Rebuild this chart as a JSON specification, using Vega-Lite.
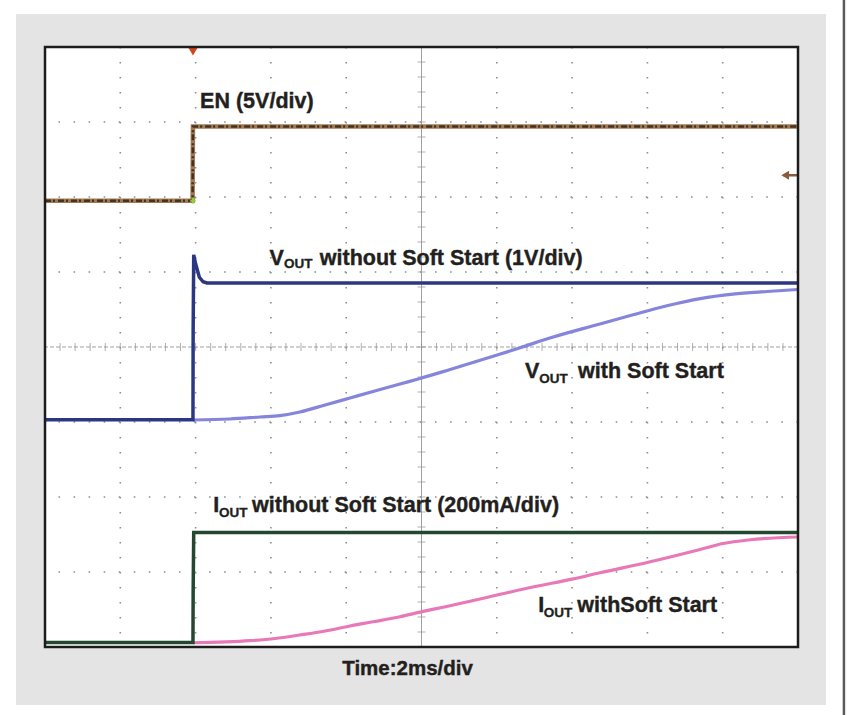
{
  "$schema": "https://vega.github.io/schema/vega-lite/v6.json",
  "width": 753,
  "height": 600,
  "autosize": {"type": "none"},
  "padding": {"left": 45, "top": 47, "right": 49, "bottom": 68},
  "background": "#ffffff",
  "config": {
    "view": {"stroke": null, "fill": null},
    "text": {"font": "Liberation Sans", "fontWeight": "bold", "color": "#231f20"}
  },
  "datasets": {
    "traces": [
      {"s": "EN", "t": 0, "d": 5.95}, {"s": "EN", "t": 3.92, "d": 5.95}, {"s": "EN", "t": 3.93, "d": 6.94}, {"s": "EN", "t": 20, "d": 6.94},
      {"s": "VOUT", "t": 0, "d": 3.03}, {"s": "VOUT", "t": 3.93, "d": 3.03}, {"s": "VOUT", "t": 3.935, "d": 4.23}, {"s": "VOUT", "t": 3.95, "d": 5.23}, {"s": "VOUT", "t": 4.0, "d": 5.11}, {"s": "VOUT", "t": 4.1, "d": 4.93}, {"s": "VOUT", "t": 4.2, "d": 4.87}, {"s": "VOUT", "t": 4.3, "d": 4.853}, {"s": "VOUT", "t": 20, "d": 4.853},
      {"s": "VSS", "t": 3.93, "d": 3.027}, {"s": "VSS", "t": 4.91, "d": 3.04}, {"s": "VSS", "t": 5.71, "d": 3.067}, {"s": "VSS", "t": 6.24, "d": 3.085}, {"s": "VSS", "t": 6.77, "d": 3.133}, {"s": "VSS", "t": 7.44, "d": 3.227}, {"s": "VSS", "t": 8.1, "d": 3.32}, {"s": "VSS", "t": 8.76, "d": 3.413}, {"s": "VSS", "t": 9.43, "d": 3.507}, {"s": "VSS", "t": 9.96, "d": 3.58}, {"s": "VSS", "t": 10.76, "d": 3.7}, {"s": "VSS", "t": 12.01, "d": 3.893}, {"s": "VSS", "t": 12.62, "d": 3.99}, {"s": "VSS", "t": 13.41, "d": 4.12}, {"s": "VSS", "t": 14.74, "d": 4.307}, {"s": "VSS", "t": 15.62, "d": 4.43}, {"s": "VSS", "t": 16.52, "d": 4.55}, {"s": "VSS", "t": 17.4, "d": 4.645}, {"s": "VSS", "t": 18.27, "d": 4.705}, {"s": "VSS", "t": 19.18, "d": 4.74}, {"s": "VSS", "t": 20, "d": 4.767},
      {"s": "IOUT", "t": 0, "d": 0.06}, {"s": "IOUT", "t": 3.93, "d": 0.06}, {"s": "IOUT", "t": 3.935, "d": 0.73}, {"s": "IOUT", "t": 3.95, "d": 1.527}, {"s": "IOUT", "t": 20, "d": 1.527},
      {"s": "ISS", "t": 3.93, "d": 0.057}, {"s": "ISS", "t": 5.44, "d": 0.084}, {"s": "ISS", "t": 6.11, "d": 0.113}, {"s": "ISS", "t": 6.77, "d": 0.16}, {"s": "ISS", "t": 7.44, "d": 0.213}, {"s": "ISS", "t": 8.1, "d": 0.28}, {"s": "ISS", "t": 8.76, "d": 0.34}, {"s": "ISS", "t": 9.43, "d": 0.404}, {"s": "ISS", "t": 9.96, "d": 0.465}, {"s": "ISS", "t": 10.76, "d": 0.55}, {"s": "ISS", "t": 12.01, "d": 0.693}, {"s": "ISS", "t": 12.96, "d": 0.8}, {"s": "ISS", "t": 14.0, "d": 0.905}, {"s": "ISS", "t": 14.74, "d": 0.99}, {"s": "ISS", "t": 16.02, "d": 1.13}, {"s": "ISS", "t": 17.4, "d": 1.3}, {"s": "ISS", "t": 18.01, "d": 1.38}, {"s": "ISS", "t": 18.73, "d": 1.43}, {"s": "ISS", "t": 20, "d": 1.467}
    ],
    "vgrid": [{"t": 2}, {"t": 4}, {"t": 6}, {"t": 8}, {"t": 12}, {"t": 14}, {"t": 16}, {"t": 18}],
    "hgrid": [{"d": 1}, {"d": 2}, {"d": 3}, {"d": 5}, {"d": 6}, {"d": 7}],
    "xticks": [{"t": 0}, {"t": 0.4}, {"t": 0.8}, {"t": 1.2}, {"t": 1.6}, {"t": 2}, {"t": 2.4}, {"t": 2.8}, {"t": 3.2}, {"t": 3.6}, {"t": 4}, {"t": 4.4}, {"t": 4.8}, {"t": 5.2}, {"t": 5.6}, {"t": 6}, {"t": 6.4}, {"t": 6.8}, {"t": 7.2}, {"t": 7.6}, {"t": 8}, {"t": 8.4}, {"t": 8.8}, {"t": 9.2}, {"t": 9.6}, {"t": 10}, {"t": 10.4}, {"t": 10.8}, {"t": 11.2}, {"t": 11.6}, {"t": 12}, {"t": 12.4}, {"t": 12.8}, {"t": 13.2}, {"t": 13.6}, {"t": 14}, {"t": 14.4}, {"t": 14.8}, {"t": 15.2}, {"t": 15.6}, {"t": 16}, {"t": 16.4}, {"t": 16.8}, {"t": 17.2}, {"t": 17.6}, {"t": 18}, {"t": 18.4}, {"t": 18.8}, {"t": 19.2}, {"t": 19.6}, {"t": 20}],
    "yticks": [{"d": 0}, {"d": 0.2}, {"d": 0.4}, {"d": 0.6}, {"d": 0.8}, {"d": 1}, {"d": 1.2}, {"d": 1.4}, {"d": 1.6}, {"d": 1.8}, {"d": 2}, {"d": 2.2}, {"d": 2.4}, {"d": 2.6}, {"d": 2.8}, {"d": 3}, {"d": 3.2}, {"d": 3.4}, {"d": 3.6}, {"d": 3.8}, {"d": 4}, {"d": 4.2}, {"d": 4.4}, {"d": 4.6}, {"d": 4.8}, {"d": 5}, {"d": 5.2}, {"d": 5.4}, {"d": 5.6}, {"d": 5.8}, {"d": 6}, {"d": 6.2}, {"d": 6.4}, {"d": 6.6}, {"d": 6.8}, {"d": 7}, {"d": 7.2}, {"d": 7.4}, {"d": 7.6}, {"d": 7.8}, {"d": 8}],
    "labels": [
      {"t": 4.12, "d": 7.19, "text": "EN (5V/div)", "part": "main"},
      {"t": 5.96, "d": 5.1, "text": "V", "part": "main"},
      {"t": 6.35, "d": 5.047, "text": "OUT", "part": "sub"},
      {"t": 7.3, "d": 5.1, "text": "without Soft Start (1V/div)", "part": "main"},
      {"t": 12.75, "d": 3.587, "text": "V", "part": "main"},
      {"t": 13.13, "d": 3.52, "text": "OUT", "part": "sub"},
      {"t": 14.16, "d": 3.587, "text": "with Soft Start", "part": "main"},
      {"t": 4.47, "d": 1.804, "text": "I", "part": "main"},
      {"t": 4.62, "d": 1.733, "text": "OUT", "part": "sub"},
      {"t": 5.5, "d": 1.804, "text": "without Soft Start (200mA/div)", "part": "main"},
      {"t": 13.1, "d": 0.471, "text": "I", "part": "main"},
      {"t": 13.25, "d": 0.404, "text": "OUT", "part": "sub"},
      {"t": 14.14, "d": 0.471, "text": "withSoft Start", "part": "main"},
      {"t": 9.63, "d": -0.373, "text": "Time:2ms/div", "part": "axis"}
    ]
  },
  "layer": [
    {
      "data": {"values": [{}]},
      "mark": {"type": "rect", "fill": "#e4e4e4"},
      "encoding": {
        "x": {"datum": -0.77, "type": "quantitative", "scale": {"domain": [0, 20], "nice": false, "zero": false}, "axis": null},
        "x2": {"datum": 20.744},
        "y": {"datum": -0.773, "type": "quantitative", "scale": {"domain": [0, 8], "nice": false, "zero": false}, "axis": null},
        "y2": {"datum": 8.44}
      }
    },
    {
      "data": {"values": [{}]},
      "mark": {"type": "rule", "stroke": "#5a5a5a", "strokeWidth": 2.5},
      "encoding": {
        "x": {"datum": 21.22, "type": "quantitative", "axis": null},
        "y": {"datum": -0.91, "type": "quantitative", "axis": null},
        "y2": {"datum": 8.63}
      }
    },
    {
      "data": {"values": [{}]},
      "mark": {"type": "rect", "fill": "#ffffff"},
      "encoding": {
        "x": {"datum": 0, "type": "quantitative", "axis": null},
        "x2": {"datum": 20},
        "y": {"datum": 0, "type": "quantitative", "axis": null},
        "y2": {"datum": 8}
      }
    },
    {
      "data": {"name": "vgrid"},
      "mark": {"type": "rule", "stroke": "#8f8f8f", "strokeWidth": 1.6, "strokeDash": [1.6, 13.4]},
      "encoding": {"x": {"field": "t", "type": "quantitative", "axis": null}}
    },
    {
      "data": {"name": "hgrid"},
      "mark": {"type": "rule", "stroke": "#8f8f8f", "strokeWidth": 1.6, "strokeDash": [1.6, 13.46]},
      "encoding": {"y": {"field": "d", "type": "quantitative", "axis": null}}
    },
    {
      "data": {"values": [{}]},
      "mark": {"type": "rule", "stroke": "#a0a0a0", "strokeWidth": 1},
      "encoding": {"x": {"datum": 10, "type": "quantitative", "axis": null}}
    },
    {
      "data": {"values": [{}]},
      "mark": {"type": "rule", "stroke": "#a0a0a0", "strokeWidth": 1, "strokeDash": [4, 2]},
      "encoding": {"y": {"datum": 4, "type": "quantitative", "axis": null}}
    },
    {
      "data": {"name": "xticks"},
      "mark": {"type": "tick", "orient": "vertical", "color": "#8f8f8f", "size": 8, "thickness": 1},
      "encoding": {
        "x": {"field": "t", "type": "quantitative", "axis": null},
        "y": {"datum": 4, "type": "quantitative", "axis": null}
      }
    },
    {
      "data": {"name": "yticks"},
      "mark": {"type": "tick", "orient": "horizontal", "color": "#8f8f8f", "size": 8, "thickness": 1},
      "encoding": {
        "x": {"datum": 10, "type": "quantitative", "axis": null},
        "y": {"field": "d", "type": "quantitative", "axis": null}
      }
    },
    {
      "data": {"name": "traces"},
      "transform": [{"filter": "datum.s === 'EN'"}],
      "mark": {"type": "line", "stroke": "#a27a52", "strokeWidth": 4.5, "interpolate": "linear"},
      "encoding": {
        "x": {"field": "t", "type": "quantitative", "axis": null},
        "y": {"field": "d", "type": "quantitative", "axis": null}
      }
    },
    {
      "data": {"name": "traces"},
      "transform": [{"filter": "datum.s === 'EN'"}],
      "mark": {"type": "line", "stroke": "#34261a", "strokeWidth": 2.5, "strokeDash": [6, 2, 2, 3], "opacity": 0.85},
      "encoding": {
        "x": {"field": "t", "type": "quantitative", "axis": null},
        "y": {"field": "d", "type": "quantitative", "axis": null}
      }
    },
    {
      "data": {"name": "traces"},
      "transform": [{"filter": "datum.s === 'VSS'"}],
      "mark": {"type": "line", "stroke": "#8585dc", "strokeWidth": 3.2, "interpolate": "monotone"},
      "encoding": {
        "x": {"field": "t", "type": "quantitative", "axis": null},
        "y": {"field": "d", "type": "quantitative", "axis": null}
      }
    },
    {
      "data": {"name": "traces"},
      "transform": [{"filter": "datum.s === 'VOUT'"}],
      "mark": {"type": "line", "stroke": "#2c3784", "strokeWidth": 3.5},
      "encoding": {
        "x": {"field": "t", "type": "quantitative", "axis": null},
        "y": {"field": "d", "type": "quantitative", "axis": null}
      }
    },
    {
      "data": {"name": "traces"},
      "transform": [{"filter": "datum.s === 'ISS'"}],
      "mark": {"type": "line", "stroke": "#e878b8", "strokeWidth": 3.2, "interpolate": "monotone"},
      "encoding": {
        "x": {"field": "t", "type": "quantitative", "axis": null},
        "y": {"field": "d", "type": "quantitative", "axis": null}
      }
    },
    {
      "data": {"name": "traces"},
      "transform": [{"filter": "datum.s === 'IOUT'"}],
      "mark": {"type": "line", "stroke": "#24472f", "strokeWidth": 3.5},
      "encoding": {
        "x": {"field": "t", "type": "quantitative", "axis": null},
        "y": {"field": "d", "type": "quantitative", "axis": null}
      }
    },
    {
      "data": {"values": [{}]},
      "mark": {"type": "point", "shape": "triangle-down", "filled": true, "color": "#d0481c", "size": 90, "opacity": 1},
      "encoding": {
        "x": {"datum": 3.93, "type": "quantitative", "axis": null},
        "y": {"datum": 7.94, "type": "quantitative", "axis": null}
      }
    },
    {
      "data": {"values": [{}]},
      "mark": {"type": "point", "shape": "cross", "filled": true, "color": "#8fd03a", "size": 30, "opacity": 1},
      "encoding": {
        "x": {"datum": 3.93, "type": "quantitative", "axis": null},
        "y": {"datum": 5.95, "type": "quantitative", "axis": null}
      }
    },
    {
      "data": {"values": [{}]},
      "mark": {"type": "rule", "stroke": "#8a5a3a", "strokeWidth": 2.5},
      "encoding": {
        "x": {"datum": 19.62, "type": "quantitative", "axis": null},
        "x2": {"datum": 20},
        "y": {"datum": 6.29, "type": "quantitative", "axis": null}
      }
    },
    {
      "data": {"values": [{}]},
      "mark": {"type": "point", "shape": "triangle-left", "filled": true, "color": "#8a5a3a", "size": 80, "opacity": 1},
      "encoding": {
        "x": {"datum": 19.66, "type": "quantitative", "axis": null},
        "y": {"datum": 6.29, "type": "quantitative", "axis": null}
      }
    },
    {
      "data": {"name": "labels"},
      "transform": [{"filter": "datum.part === 'main'"}],
      "mark": {"type": "text", "align": "left", "baseline": "alphabetic", "fontSize": 21.5, "fontWeight": "bold", "font": "Liberation Sans", "color": "#231f20", "stroke": "#231f20", "strokeWidth": 0.4},
      "encoding": {
        "x": {"field": "t", "type": "quantitative", "axis": null},
        "y": {"field": "d", "type": "quantitative", "axis": null},
        "text": {"field": "text"}
      }
    },
    {
      "data": {"name": "labels"},
      "transform": [{"filter": "datum.part === 'sub'"}],
      "mark": {"type": "text", "align": "left", "baseline": "alphabetic", "fontSize": 13.5, "fontWeight": "bold", "font": "Liberation Sans", "color": "#231f20", "stroke": "#231f20", "strokeWidth": 0.3},
      "encoding": {
        "x": {"field": "t", "type": "quantitative", "axis": null},
        "y": {"field": "d", "type": "quantitative", "axis": null},
        "text": {"field": "text"}
      }
    },
    {
      "data": {"name": "labels"},
      "transform": [{"filter": "datum.part === 'axis'"}],
      "mark": {"type": "text", "align": "center", "baseline": "alphabetic", "fontSize": 20.5, "fontWeight": "bold", "font": "Liberation Sans", "color": "#231f20", "stroke": "#231f20", "strokeWidth": 0.4},
      "encoding": {
        "x": {"field": "t", "type": "quantitative", "axis": null},
        "y": {"field": "d", "type": "quantitative", "axis": null},
        "text": {"field": "text"}
      }
    },
    {
      "data": {"values": [{}]},
      "mark": {"type": "rect", "filled": false, "stroke": "#1c1c1c", "strokeWidth": 2.5},
      "encoding": {
        "x": {"datum": 0, "type": "quantitative", "axis": null},
        "x2": {"datum": 20},
        "y": {"datum": 0, "type": "quantitative", "axis": null},
        "y2": {"datum": 8}
      }
    }
  ]
}
